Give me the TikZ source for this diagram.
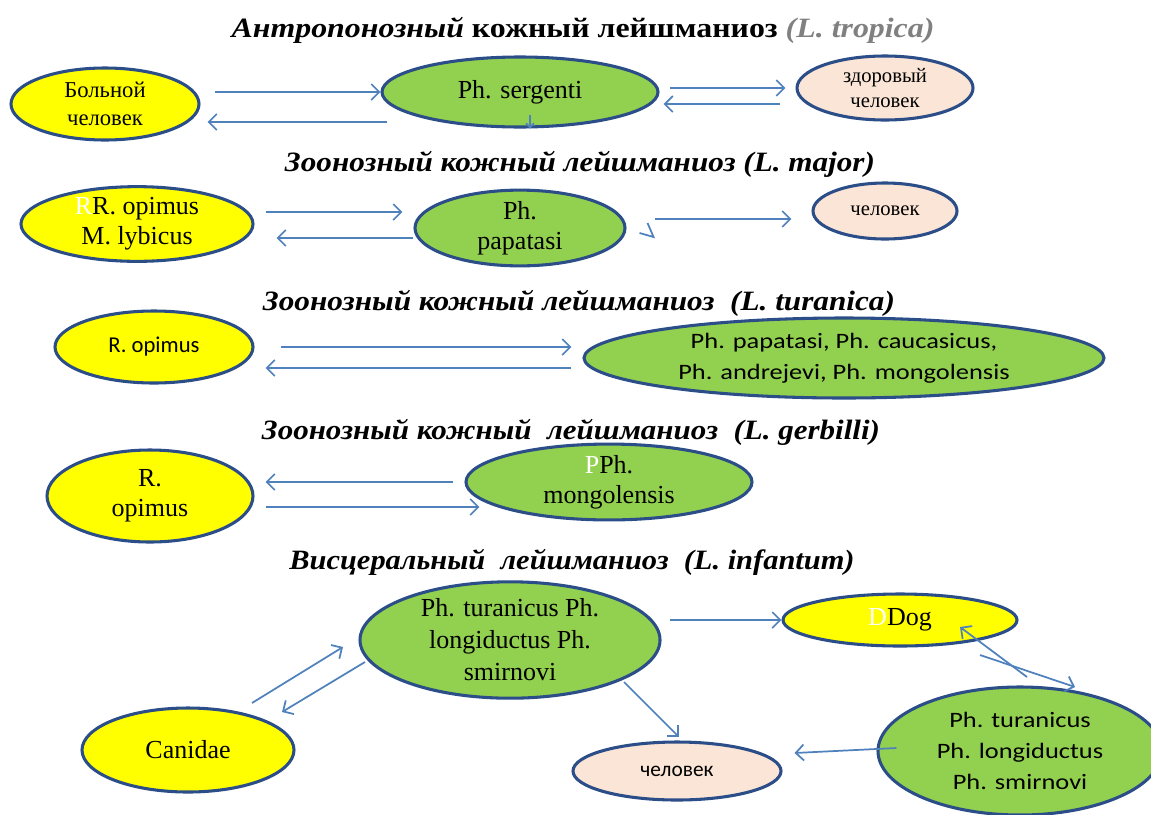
\documentclass[tikz,border=0pt]{standalone}
\usepackage{fontspec}
\usepackage{graphicx}
\setmainfont{Liberation Serif}
\newfontfamily\calib{Carlito}
\newfontfamily\calibw[FakeStretch=1.2]{Carlito}
\usetikzlibrary{shapes.geometric,arrows.meta,calc}
\definecolor{cYel}{RGB}{255,255,0}
\definecolor{cGrn}{RGB}{146,208,80}
\definecolor{cPch}{RGB}{251,229,214}
\definecolor{cBord}{RGB}{44,78,136}
\definecolor{cArr}{RGB}{79,129,189}
\newcommand\ttlfit[2]{\resizebox{#1}{\height}{#2}}
\tikzset{
  ell/.style 2 args={ellipse, draw=cBord, line width=2.3pt, minimum width=#1*0.75pt, minimum height=#2*0.75pt, inner sep=0pt, align=center, text=black},
  yelbox/.style={fill=cYel},
  grnbox/.style={fill=cGrn},
  pchbox/.style={fill=cPch},
  arr/.style={draw=cArr, line width=1.3pt, -{Straight Barb[length=6pt,width=12pt,line width=1.3pt]}},
  tick/.style={draw=cArr, line width=1.3pt},
  ttl/.style={anchor=base, inner sep=0pt, font=\fontsize{21pt}{24pt}\selectfont\bfseries\itshape},
  serA/.style={font=\fontsize{19.5pt}{22.5pt}\selectfont},
  serB/.style={font=\fontsize{17pt}{21pt}\selectfont},
  serC/.style={font=\fontsize{15.5pt}{19pt}\selectfont},
  sanA/.style={font=\calib\fontsize{17pt}{21pt}\selectfont},
  sanW/.style={font=\calibw\fontsize{16.5pt}{23pt}\selectfont}
}
\begin{document}
\begin{tikzpicture}[x=0.75pt,y=-0.75pt]
\path[use as bounding box, fill=white] (0,0) rectangle (1151,814);

% titles
\node[ttl] (t1) at (583,37) {\ttlfit{527pt}{Антропонозный {\upshape кожный лейшманиоз} {\color{gray}(L. tropica)}}};
\node[ttl] (t2) at (580,171) {\ttlfit{442.5pt}{Зоонозный кожный лейшманиоз (L. major)}};
\node[ttl] (t3) at (579,310) {\ttlfit{474pt}{Зоонозный кожный лейшманиоз~ (L. turanica)}};
\node[ttl] (t4) at (571,439) {\ttlfit{463.5pt}{Зоонозный кожный~ лейшманиоз~ (L. gerbilli)}};
\node[ttl] (t5) at (572,569) {\ttlfit{424pt}{Висцеральный~ лейшманиоз~ (L. infantum)}};

% row 1
\node[ell={188}{72}, yelbox, serB] (Y1) at (105,104) {Больной\\человек};
\node[ell={276}{70}, grnbox, serA] (G1) at (520,92) {Ph. sergenti};
\node[ell={176}{64}, pchbox, serC] (P1) at (885,88) {здоровый\\человек};
\draw[arr] ($(Y1.east)+(14,-12)$) -- (G1.west);
\draw[arr] ($(G1.west)+(7,30)$) -- ($(Y1.east)+(7,18)$);
\draw[arr] ($(G1.east)+(10,-4)$) -- ($(P1.west)+(-10,0)$);
\draw[arr] ($(P1.west)+(-15,16)$) -- ($(G1.east)+(4,12)$);
\draw[tick, -{Straight Barb[length=3pt,width=6pt]}] ($(G1.south)+(10,-14)$) -- ($(G1.south)+(10,0)$);

% row 2
\node[ell={232}{70}, yelbox, serA] (Y2) at (137,224) {\textcolor{white}{R}R. opimus\\M. lybicus};
\node[ell={210}{74}, grnbox, serA] (G2) at (520,228) {Ph.\\papatasi};
\node[ell={144}{56}, pchbox, serC] (P2) at (885,211) {человек};
\draw[arr] ($(Y2.east)+(11,-12)$) -- ($(G2.west)+(-11,-16)$);
\draw[arr] ($(G2.west)+(0,10)$) -- ($(Y2.east)+(22,14)$);
\draw[arr] ($(G2.east)+(28,-9)$) -- ($(P2.west)+(-20,8)$);
\draw[tick] ($(G2.east)+(21,-5)$) -- ($(G2.east)+(27,9)$) -- ($(G2.east)+(13,5)$);

% row 3
\node[ell={198}{72}, yelbox, sanA] (Y3) at (154,347) {R. opimus};
\node[ell={520}{80}, grnbox, sanW] (G3) at (844,358) {Ph. papatasi, Ph. caucasicus,\\Ph. andrejevi, Ph. mongolensis};
\draw[arr] ($(Y3.east)+(26,0)$) -- ($(G3.west)+(-11,-11)$);
\draw[arr] ($(G3.west)+(-11,10)$) -- ($(Y3.east)+(11,21)$);

% row 4
\node[ell={206}{92}, yelbox, serA] (Y4) at (150,496) {R.\\opimus};
\node[ell={286}{68}, grnbox, serA] (G4) at (609,482) {\textcolor{white}{P}Ph.\\mongolensis};
\draw[arr] ($(G4.west)+(-11,0)$) -- ($(Y4.east)+(11,-14)$);
\draw[arr] ($(Y4.east)+(11,11)$) -- ($(G4.west)+(15,25)$);

% row 5
\node[ell={300}{114}, grnbox, font=\fontsize{19.5pt}{24pt}\selectfont] (G5) at (510,640) {Ph. turanicus Ph.\\longiductus Ph.\\smirnovi};
\node[ell={234}{52}, yelbox, serA] (D5) at (900,620) {\textcolor{white}{D}Dog};
\node[ell={212}{84}, yelbox, serA] (C5) at (188,750) {Canidae};
\node[ell={208}{58}, pchbox, font=\calib\fontsize{16pt}{20pt}\selectfont] (H5) at (677,771) {человек};
\node[ell={284}{128}, grnbox, sanW] (R5) at (1020,751) {Ph. turanicus\\Ph. longiductus\\Ph. smirnovi};
\draw[arr] ($(C5)+(64,-47)$) -- ($(G5)+(-167,7)$);
\draw[arr] ($(G5)+(-145,22)$) -- ($(C5)+(94,-38)$);
\draw[arr] ($(G5.east)+(8,-20)$) -- (D5.west);
\draw[arr] ($(G5)+(114,42)$) -- ($(H5)+(2,-34)$);
\draw[arr] ($(R5)+(7,-74)$) -- ($(D5)+(60,7)$);
\draw[arr] ($(D5)+(80,35)$) -- ($(R5)+(55,-64)$);
\draw[arr] ($(R5.west)+(20,-3)$) -- ($(H5.east)+(12,-18)$);
\end{tikzpicture}
\end{document}
